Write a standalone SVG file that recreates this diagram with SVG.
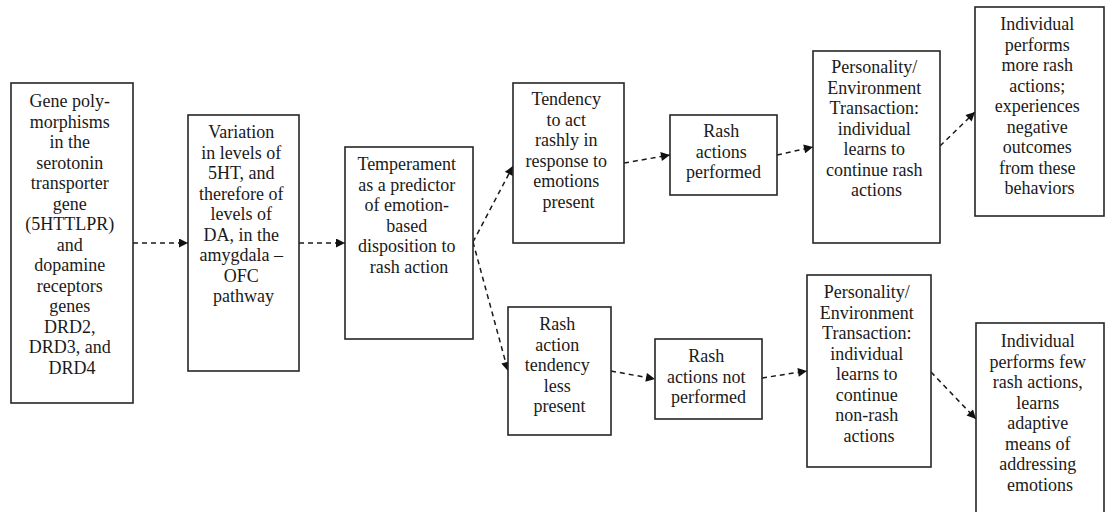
<svg xmlns="http://www.w3.org/2000/svg" width="1106" height="512" viewBox="0 0 1106 512">
  <style>
    .box { fill: #fff; stroke: #262626; stroke-width: 1.6; }
    .lbl { font-family: "Liberation Serif", "Times New Roman", serif; font-size: 18px; fill: #1a1a1a; text-anchor: middle; }
    .link { fill: none; stroke: #1a1a1a; stroke-width: 1.5; stroke-dasharray: 5 4; marker-end: url(#ah); }
  </style>
  <defs>
    <marker id="ah" viewBox="0 0 10 10" refX="10" refY="5" markerWidth="11" markerHeight="9" markerUnits="userSpaceOnUse" orient="auto">
      <path d="M0,0 L10,5 L0,10 z" fill="#111" stroke="none"/>
    </marker>
  </defs>
  <rect width="1106" height="512" fill="#fff"/>

  <g id="connectors">
    <line class="link" x1="133" y1="243" x2="188" y2="243"/>
    <line class="link" x1="299" y1="243" x2="345" y2="243"/>
    <line class="link" x1="473" y1="242" x2="513" y2="166"/>
    <line class="link" x1="473" y1="242" x2="508" y2="371"/>
    <line class="link" x1="624" y1="163" x2="670" y2="155"/>
    <line class="link" x1="777" y1="155" x2="813" y2="147"/>
    <line class="link" x1="940" y1="146" x2="975" y2="112"/>
    <line class="link" x1="611" y1="371" x2="655" y2="379"/>
    <line class="link" x1="762" y1="378" x2="807" y2="371"/>
    <line class="link" x1="931" y1="372" x2="976" y2="419"/>
  </g>

  <g id="gene-polymorphisms">
    <rect class="box" x="11" y="83" width="122" height="320"/>
    <text class="lbl" x="72" y="107">
      <tspan x="72">Gene poly-</tspan>
      <tspan x="72" dy="20.5">morphisms</tspan>
      <tspan x="72" dy="20.5">in the</tspan>
      <tspan x="72" dy="20.5">serotonin</tspan>
      <tspan x="72" dy="20.5">transporter</tspan>
      <tspan x="72" dy="20.5">gene</tspan>
      <tspan x="72" dy="20.5">(5HTTLPR)</tspan>
      <tspan x="72" dy="20.5">and</tspan>
      <tspan x="72" dy="20.5">dopamine</tspan>
      <tspan x="72" dy="20.5">receptors</tspan>
      <tspan x="72" dy="20.5">genes</tspan>
      <tspan x="72" dy="20.5">DRD2,</tspan>
      <tspan x="72" dy="20.5">DRD3, and</tspan>
      <tspan x="72" dy="20.5">DRD4</tspan>
    </text>
  </g>

  <g id="variation-levels">
    <rect class="box" x="188" y="115" width="111" height="256"/>
    <text class="lbl" x="243.5" y="138">
      <tspan x="243.5">Variation</tspan>
      <tspan x="243.5" dy="20.5">in levels of</tspan>
      <tspan x="243.5" dy="20.5">5HT, and</tspan>
      <tspan x="243.5" dy="20.5">therefore of</tspan>
      <tspan x="243.5" dy="20.5">levels of</tspan>
      <tspan x="243.5" dy="20.5">DA, in the</tspan>
      <tspan x="243.5" dy="20.5">amygdala –</tspan>
      <tspan x="243.5" dy="20.5">OFC</tspan>
      <tspan x="243.5" dy="20.5">pathway</tspan>
    </text>
  </g>

  <g id="temperament">
    <rect class="box" x="345" y="147" width="128" height="192"/>
    <text class="lbl" x="409" y="170">
      <tspan x="409">Temperament</tspan>
      <tspan x="409" dy="20.5">as a predictor</tspan>
      <tspan x="409" dy="20.5">of emotion-</tspan>
      <tspan x="409" dy="20.5">based</tspan>
      <tspan x="409" dy="20.5">disposition to</tspan>
      <tspan x="409" dy="20.5">rash action</tspan>
    </text>
  </g>

  <g id="tendency-present">
    <rect class="box" x="513" y="83" width="111" height="160"/>
    <text class="lbl" x="568.5" y="105">
      <tspan x="568.5">Tendency</tspan>
      <tspan x="568.5" dy="20.5">to act</tspan>
      <tspan x="568.5" dy="20.5">rashly in</tspan>
      <tspan x="568.5" dy="20.5">response to</tspan>
      <tspan x="568.5" dy="20.5">emotions</tspan>
      <tspan x="568.5" dy="20.5">present</tspan>
    </text>
  </g>

  <g id="rash-performed">
    <rect class="box" x="670" y="115" width="107" height="80"/>
    <text class="lbl" x="723.5" y="137">
      <tspan x="723.5">Rash</tspan>
      <tspan x="723.5" dy="20.5">actions</tspan>
      <tspan x="723.5" dy="20.5">performed</tspan>
    </text>
  </g>

  <g id="transaction-rash">
    <rect class="box" x="813" y="51" width="127" height="192"/>
    <text class="lbl" x="876.5" y="73">
      <tspan x="876.5">Personality/</tspan>
      <tspan x="876.5" dy="20.5">Environment</tspan>
      <tspan x="876.5" dy="20.5">Transaction:</tspan>
      <tspan x="876.5" dy="20.5">individual</tspan>
      <tspan x="876.5" dy="20.5">learns to</tspan>
      <tspan x="876.5" dy="20.5">continue rash</tspan>
      <tspan x="876.5" dy="20.5">actions</tspan>
    </text>
  </g>

  <g id="outcome-negative">
    <rect class="box" x="975" y="7" width="129" height="209"/>
    <text class="lbl" x="1039.5" y="30">
      <tspan x="1039.5">Individual</tspan>
      <tspan x="1039.5" dy="20.5">performs</tspan>
      <tspan x="1039.5" dy="20.5">more rash</tspan>
      <tspan x="1039.5" dy="20.5">actions;</tspan>
      <tspan x="1039.5" dy="20.5">experiences</tspan>
      <tspan x="1039.5" dy="20.5">negative</tspan>
      <tspan x="1039.5" dy="20.5">outcomes</tspan>
      <tspan x="1039.5" dy="20.5">from these</tspan>
      <tspan x="1039.5" dy="20.5">behaviors</tspan>
    </text>
  </g>

  <g id="tendency-less">
    <rect class="box" x="508" y="307" width="103" height="128"/>
    <text class="lbl" x="559.5" y="330">
      <tspan x="559.5">Rash</tspan>
      <tspan x="559.5" dy="20.5">action</tspan>
      <tspan x="559.5" dy="20.5">tendency</tspan>
      <tspan x="559.5" dy="20.5">less</tspan>
      <tspan x="559.5" dy="20.5">present</tspan>
    </text>
  </g>

  <g id="rash-not-performed">
    <rect class="box" x="655" y="339" width="107" height="80"/>
    <text class="lbl" x="708.5" y="362">
      <tspan x="708.5">Rash</tspan>
      <tspan x="708.5" dy="20.5">actions not</tspan>
      <tspan x="708.5" dy="20.5">performed</tspan>
    </text>
  </g>

  <g id="transaction-nonrash">
    <rect class="box" x="807" y="275" width="124" height="192"/>
    <text class="lbl" x="869" y="298">
      <tspan x="869">Personality/</tspan>
      <tspan x="869" dy="20.5">Environment</tspan>
      <tspan x="869" dy="20.5">Transaction:</tspan>
      <tspan x="869" dy="20.5">individual</tspan>
      <tspan x="869" dy="20.5">learns to</tspan>
      <tspan x="869" dy="20.5">continue</tspan>
      <tspan x="869" dy="20.5">non-rash</tspan>
      <tspan x="869" dy="20.5">actions</tspan>
    </text>
  </g>

  <g id="outcome-adaptive">
    <rect class="box" x="976" y="323" width="128" height="200"/>
    <text class="lbl" x="1040" y="347">
      <tspan x="1040">Individual</tspan>
      <tspan x="1040" dy="20.5">performs few</tspan>
      <tspan x="1040" dy="20.5">rash actions,</tspan>
      <tspan x="1040" dy="20.5">learns</tspan>
      <tspan x="1040" dy="20.5">adaptive</tspan>
      <tspan x="1040" dy="20.5">means of</tspan>
      <tspan x="1040" dy="20.5">addressing</tspan>
      <tspan x="1040" dy="20.5">emotions</tspan>
    </text>
  </g>
</svg>
